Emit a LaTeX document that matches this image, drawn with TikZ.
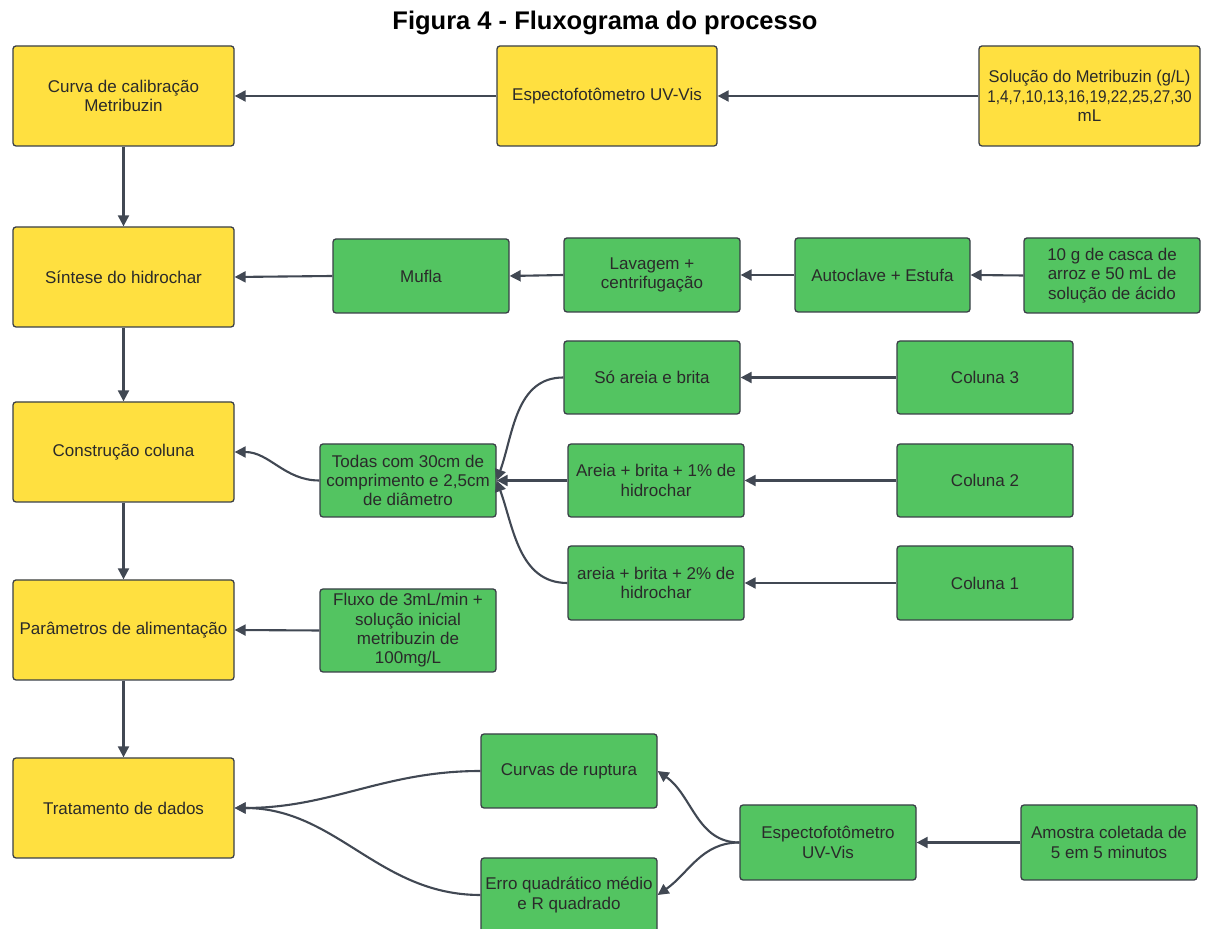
\documentclass[tikz,border=0pt]{standalone}
\usepackage{fontspec}
\setmainfont{Liberation Sans}
\usetikzlibrary{arrows.meta}
\definecolor{yel}{HTML}{FFE040}
\definecolor{grn}{HTML}{53C461}
\definecolor{edge}{HTML}{3A3F47}
\definecolor{txt}{HTML}{2A2A2A}
\definecolor{arr}{HTML}{414853}
\tikzset{
  box/.style={draw=edge, line width=1.3pt, rounded corners=3pt, align=center, text=txt,
    font=\fontsize{17}{19.3}\selectfont, inner sep=1pt},
  ybox/.style={box, fill=yel, minimum width=221pt, minimum height=100pt},
  gbox/.style={box, fill=grn, minimum width=176pt, minimum height=74pt},
  conn/.style={draw=arr, line width=2.1pt, -{Triangle[length=11pt,width=11pt]}}
}
\begin{document}
\begin{tikzpicture}[x=1pt,y=1pt]
\clip (0,0) rectangle (1205,929);
\fill[white] (0,0) rectangle (1205,929);
\node[font=\fontsize{25.5}{28}\selectfont\bfseries] (title) at (605,906) {Figura 4 - Fluxograma do processo};

% yellow main column
\node[ybox] (curva) at (123.5,833) {Curva de calibração\\Metribuzin};
\node[ybox, minimum width=220pt] (esp1) at (607,833) {Espectofotômetro UV-Vis};
\node[ybox] (sol) at (1089.5,833) {\scalebox{0.97}[1]{Solução do Metribuzin (g/L)}\\\scalebox{0.9}[1]{1,4,7,10,13,16,19,22,25,27,30}\\mL};
\node[ybox] (sint) at (123.5,652) {Síntese do hidrochar};
\node[ybox] (const) at (123.5,477) {Construção coluna};
\node[ybox] (param) at (123.5,299) {Parâmetros de alimentação};
\node[ybox] (trat) at (123.5,121) {Tratamento de dados};

% hidrochar row
\node[gbox] (mufla) at (421,653) {Mufla};
\node[gbox] (lav) at (652,654) {Lavagem +\\centrifugação};
\node[gbox, minimum width=175pt] (auto) at (882.5,654) {Autoclave + Estufa};
\node[gbox, minimum height=75pt] (dez) at (1112,653.5) {10 g de casca de\\arroz e 50 mL de\\solução de ácido};

% columns
\node[gbox, minimum height=73pt] (todas) at (408,448.5) {Todas com 30cm de\\comprimento e 2,5cm\\de diâmetro};
\node[gbox, minimum height=73pt] (so) at (652,551.5) {Só areia e brita};
\node[gbox, minimum height=73pt] (a1) at (656,448.5) {Areia + brita + 1\% de\\hidrochar};
\node[gbox] (a2) at (656,346) {areia + brita + 2\% de\\hidrochar};
\node[gbox, minimum height=73pt] (c3) at (985,551.5) {Coluna 3};
\node[gbox, minimum height=73pt] (c2) at (985,448.5) {Coluna 2};
\node[gbox] (c1) at (985,346) {Coluna 1};

% feed
\node[gbox, minimum height=83pt] (fluxo) at (408,298.5) {Fluxo de 3mL/min +\\solução inicial\\metribuzin de\\100mg/L};

% data
\node[gbox] (curvas) at (569,158) {Curvas de ruptura};
\node[gbox] (erro) at (569,34) {Erro quadrático médio\\e R quadrado};
\node[gbox, minimum height=75pt] (esp2) at (828,86.5) {Espectofotômetro\\UV-Vis};
\node[gbox, minimum height=75pt] (amos) at (1109,86.5) {Amostra coletada de\\5 em 5 minutos};

% connectors
\draw[conn] (esp1.west) -- (curva.east);
\draw[conn] (sol.west) -- (esp1.east);
\draw[conn] (curva.south) -- (sint.north);
\draw[conn] (sint.south) -- (const.north);
\draw[conn] (const.south) -- (param.north);
\draw[conn] (param.south) -- (trat.north);
\draw[conn] (mufla.west) -- (sint.east);
\draw[conn] (lav.west) -- (mufla.east);
\draw[conn] (auto.west) -- (lav.east);
\draw[conn] (dez.west) -- (auto.east);
\draw[conn] (c3.west) -- (so.east);
\draw[conn] (c2.west) -- (a1.east);
\draw[conn] (c1.west) -- (a2.east);
\draw[conn] (so.west) to[out=180,in=70] (todas.east);
\draw[conn] (a1.west) -- (todas.east);
\draw[conn] (a2.west) to[out=180,in=-70] (todas.east);
\draw[conn] (todas.west) to[out=180,in=0] (const.east);
\draw[conn] (fluxo.west) -- (param.east);
\draw[conn] (curvas.west) to[out=180,in=0] (trat.east);
\draw[conn] (erro.west) to[out=180,in=0] (trat.east);
\draw[conn] (esp2.west) to[out=180,in=-35] (curvas.east);
\draw[conn] (esp2.west) to[out=180,in=35] (erro.east);
\draw[conn] (amos.west) -- (esp2.east);
\end{tikzpicture}
\end{document}
